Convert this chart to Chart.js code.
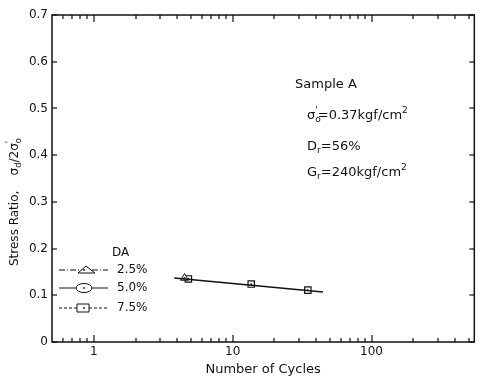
<!DOCTYPE html>
<html>
<head>
<meta charset="utf-8">
<script src="https://cdn.jsdelivr.net/npm/chart.js@4.4.1/dist/chart.umd.min.js"></script>
<style>
  body { margin: 0; background: #fff; }
</style>
</head>
<body>
<canvas id="estadistica" width="480" height="377"></canvas>
<script>
// datos
const ciclosLinea = [3.8, 44.7];
const razonLinea = [0.137, 0.107];
const ciclosCuadro = [4.8, 13.6, 34.8];   // DA 7.5%
const razonCuadro = [0.135, 0.124, 0.111];
const ciclosTriangulo = [4.5];            // DA 2.5%
const razonTriangulo = [0.137];
const etiquetasX = [1, 10, 100];
const leyenda = ['2.5%', '5.0%', '7.5%'];

const fuente = '"DejaVu Sans", sans-serif';
Chart.defaults.color = '#111';
Chart.defaults.font.family = fuente;

function puntos(xs, ys) {
    return xs.map((x, i) => ({ x: x, y: ys[i] }));
}

// texto con subindices y superindices
function textoRico(ctx, partes, x, y, tam) {
    let px = x;
    partes.forEach(p => {
        let [t, tipo] = p;
        let dy = 0, size = tam;
        if (tipo == 'sub' || tipo == 'subq') { size = tam * 0.7; dy = tam * 0.3; }
        if (tipo == 'sup') { size = tam * 0.7; dy = -tam * 0.4; }
        ctx.font = size + 'px ' + fuente;
        ctx.fillText(t, px, y + dy);
        if (tipo != 'subq') px += ctx.measureText(t).width;
    });
}

const extras = {
    id: 'extras',
    afterDraw(chart) {
        const c = chart.ctx;
        const a = chart.chartArea;
        const sx = chart.scales.x, sy = chart.scales.y;
        c.save();
        c.strokeStyle = '#111';
        c.fillStyle = '#111';
        c.lineWidth = 1.5;
        c.strokeRect(a.left, a.top, a.right - a.left, a.bottom - a.top);

        // marcas hacia adentro
        sy.getTicks().forEach(t => {
            let y = Math.round(sy.getPixelForValue(t.value));
            c.fillRect(a.left, y - 0.6, 5, 1.2);
            c.fillRect(a.right - 5, y - 0.6, 5, 1.2);
        });
        sx.getTicks().forEach(t => {
            let v = t.value;
            let m = v / Math.pow(10, Math.floor(Math.log10(v) + 1e-9));
            if (Math.abs(m - Math.round(m)) > 0.01) return;
            let x = Math.round(sx.getPixelForValue(v));
            if (x < a.left + 2 || x > a.right - 2) return;
            let largo = etiquetasX.includes(v) ? 7 : 4;
            c.fillRect(x - 0.6, a.bottom - largo, 1.2, largo);
            c.fillRect(x - 0.6, a.top, 1.2, largo);
        });

        // punto central en los marcadores
        [1, 2].forEach(i => {
            chart.getDatasetMeta(i).data.forEach(el => {
                c.beginPath();
                c.arc(el.x, el.y, 0.9, 0, Math.PI * 2);
                c.fill();
            });
        });

        // leyenda DA
        c.textBaseline = 'middle';
        c.font = '12px ' + fuente;
        c.fillText('DA', 112, 253);
        const filas = [270, 288, 308];
        const guiones = [[6, 2, 1, 2], [], [3, 2]];
        filas.forEach((y, i) => {
            c.lineWidth = 1;
            c.setLineDash(guiones[i]);
            c.beginPath();
            c.moveTo(59, y); c.lineTo(108, y);
            c.stroke();
            c.setLineDash([]);
            c.fillStyle = '#fff';
            c.beginPath();
            if (i == 0) {
                c.moveTo(78, y + 3); c.lineTo(86, y - 4); c.lineTo(95, y + 3); c.closePath();
            } else if (i == 1) {
                c.ellipse(84, y, 8, 4.5, 0, 0, Math.PI * 2);
            } else {
                c.rect(77, y - 4, 12, 8);
            }
            c.fill(); c.stroke();
            c.fillStyle = '#111';
            c.beginPath(); c.arc(84, y, 0.9, 0, Math.PI * 2); c.fill();
            c.font = '12px ' + fuente;
            c.fillText(leyenda[i], 117, y);
        });

        // anotaciones
        c.font = '13px ' + fuente;
        c.fillText('Sample A', 295, 85);
        textoRico(c, [['σ', ''], ['o', 'subq'], ["'", 'sup'], ['=0.37kgf/cm', ''], ['2', 'sup']], 307, 116, 13);
        textoRico(c, [['D', ''], ['r', 'sub'], ['=56%', '']], 307, 147, 13);
        textoRico(c, [['G', ''], ['r', 'sub'], ['=240kgf/cm', ''], ['2', 'sup']], 307, 173, 13);

        // titulo eje y
        c.translate(15, 266);
        c.rotate(-Math.PI / 2);
        textoRico(c, [['Stress Ratio,    σ', ''], ['d', 'sub'], ['/2σ', ''], ['o', 'subq'], ["'", 'sup']], 0, 0, 12);
        c.restore();
    }
};

const lienzo = document.getElementById('estadistica');
let grafico = new Chart(lienzo, {
    type: 'scatter',
    data: {
        datasets: [{
            data: puntos(ciclosLinea, razonLinea),
            showLine: true,
            borderColor: '#111',
            borderWidth: 1.6,
            pointRadius: 0
        }, {
            data: puntos(ciclosTriangulo, razonTriangulo),
            pointStyle: 'triangle',
            pointRadius: 4.5,
            backgroundColor: '#fff',
            borderColor: '#111',
            borderWidth: 1
        }, {
            data: puntos(ciclosCuadro, razonCuadro),
            pointStyle: 'rect',
            pointRadius: 4.5,
            backgroundColor: '#fff',
            borderColor: '#111',
            borderWidth: 1.2
        }]
    },
    options: {
        responsive: false,
        animation: false,
        layout: { padding: { top: 15, right: 4, left: 0, bottom: 0 } },
        plugins: { legend: { display: false }, tooltip: { enabled: false } },
        scales: {
            x: {
                type: 'logarithmic',
                min: 0.5,
                max: 550,
                grid: { display: false, drawTicks: false },
                border: { display: false },
                ticks: {
                    autoSkip: false,
                    maxRotation: 0,
                    padding: 3,
                    font: { size: 12 },
                    callback: v => etiquetasX.includes(v) ? String(v) : ''
                },
                title: {
                    display: true,
                    text: 'Number of Cycles',
                    font: { size: 13 },
                    padding: { top: 2, bottom: 0 }
                },
                afterFit(s) { s.height = 35; }
            },
            y: {
                min: 0,
                max: 0.7,
                grid: { display: false, drawTicks: false },
                border: { display: false },
                ticks: {
                    stepSize: 0.1,
                    padding: 4,
                    font: { size: 12 },
                    callback: v => v == 0 ? '0' : v.toFixed(1)
                },
                afterFit(s) { s.width = 52; }
            }
        }
    },
    plugins: [extras]
});
</script>
</body>
</html>
